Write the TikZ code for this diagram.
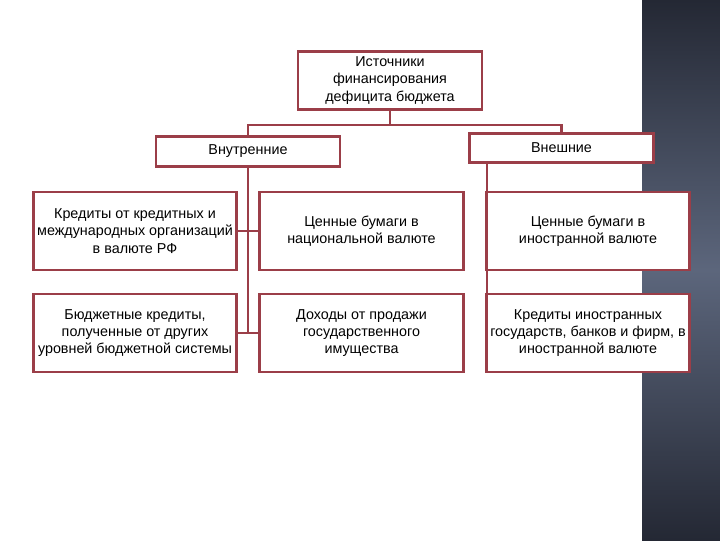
\documentclass[tikz,border=0pt]{standalone}
\usepackage{fontspec}
\setmainfont{Liberation Sans}
\usepackage{tikz}
\definecolor{boxred}{RGB}{155,62,72}
\definecolor{panel}{RGB}{36,40,52}
\definecolor{panelmid}{RGB}{92,102,124}
\tikzset{
  srcbox/.style={draw=boxred, line width=2pt, fill=white, align=center,
    inner sep=1pt, font=\fontsize{10.2}{12.3}\selectfont},
  link/.style={draw=boxred, line width=2pt}
}

\begin{document}
\begin{tikzpicture}[x=0.025cm, y=-0.025cm]
    \useasboundingbox (0,0) rectangle (720,540);
    % Dark panel on the right
    \shade[top color=panel, bottom color=panelmid] (642,0) rectangle (720,270);
    \shade[top color=panelmid, bottom color=panel] (642,270) rectangle (720,540);
    % Top box
    \node[srcbox, minimum width=4.6cm, minimum height=1.45cm] (src) at (390,80.5)
        {Источники\\финансирования\\дефицита бюджета};
    % Two groups
    \node[srcbox, minimum width=4.6cm, minimum height=0.75cm] (inner) at (248,151.5)
        {Внутренние};
    \node[srcbox, minimum width=4.6cm, minimum height=0.72cm] (outer) at (561.5,148)
        {Внешние};
    % Internal sources
    \node[srcbox, minimum width=5.08cm, minimum height=1.95cm] (credrf) at (135,231)
        {Кредиты от кредитных и\\международных организаций\\в валюте РФ};
    \node[srcbox, minimum width=5.08cm, minimum height=1.95cm] (secnat) at (361.5,231)
        {Ценные бумаги в\\национальной валюте};
    \node[srcbox, minimum width=5.08cm, minimum height=1.95cm] (budcred) at (135,333)
        {Бюджетные кредиты,\\полученные от других\\уровней бюджетной системы};
    \node[srcbox, minimum width=5.08cm, minimum height=1.95cm] (sale) at (361.5,333)
        {Доходы от продажи\\государственного\\имущества};
    % External sources
    \node[srcbox, minimum width=5.08cm, minimum height=1.95cm] (secfor) at (588,231)
        {Ценные бумаги в\\иностранной валюте};
    \node[srcbox, minimum width=5.08cm, minimum height=1.95cm] (credfor) at (588,333)
        {Кредиты иностранных\\государств, банков и фирм, в\\иностранной валюте};
    % Connectors
    \coordinate (split) at (390,125);
    \coordinate (inbot) at (248,333);
    \draw[link] (src.south) -- (split);
    \draw[link] (inner.north) |- (split) -| (outer.north);
    \draw[link] (inner.south) -- (inbot);
    \draw[link] (credrf.east) -- (secnat.west);
    \draw[link] (budcred.east) -- (sale.west);
    \draw[link] (outer.south west) ++(19,0) coordinate (outdrop) -- (outdrop |- credfor.north);
\end{tikzpicture}
\end{document}
